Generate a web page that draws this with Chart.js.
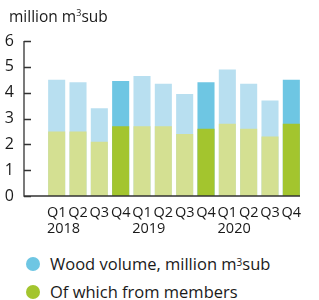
<!DOCTYPE html>
<html>
<head>
<meta charset="utf-8">
<script src="https://cdn.jsdelivr.net/npm/chart.js@4/dist/chart.umd.min.js"></script>
<style>
  body { margin: 0; background: #fff; font-family: "Open Sans", sans-serif; color: #1a1a1a; }
  #wrap { position: relative; width: 319px; height: 300px; }
  #title { position: absolute; left: 9px; top: 5px; font-size: 15.5px; }
  #chart { position: absolute; left: 0; top: 0; }
  .leg { position: absolute; left: 26px; font-size: 16.5px; display: flex; align-items: center; }
  .leg i { display: inline-block; width: 14px; height: 14px; border-radius: 50%; margin-right: 10px; }
</style>
</head>
<body>
<div id="wrap">
  <canvas id="chart" width="319" height="245"></canvas>
  <div id="title">million m<sup style="font-size:9px">3</sup>sub</div>
  <div class="leg" style="top:252px"><i style="background:#6ec6e3"></i>Wood volume, million m<sup style="font-size:10px;position:relative;top:-2px">3</sup>sub</div>
  <div class="leg" style="top:280px"><i style="background:#a3c52e"></i>Of which from members</div>
</div>
<script>
// ── Data ─────────────────────────────────────
const quarters = ['Q1', 'Q2', 'Q3', 'Q4', 'Q1', 'Q2', 'Q3', 'Q4', 'Q1', 'Q2', 'Q3', 'Q4'];
const years    = ['2018', '2019', '2020'];
const totalVol = [4.5, 4.4, 3.4, 4.45, 4.65, 4.35, 3.95, 4.4, 4.9, 4.35, 3.7, 4.5];
const members  = [2.5, 2.5, 2.1, 2.7, 2.7, 2.7, 2.4, 2.6, 2.8, 2.6, 2.3, 2.8];
const yTicks   = [0, 1, 2, 3, 4, 5, 6];

const BLUE_L  = '#b8dff0';
const BLUE_D  = '#6ec6e3';
const GREEN_L = '#d4e092';
const GREEN_D = '#a3c52e';
const INK     = '#1a1a1a';

const pick = (light, dark) => quarters.map(q => q === 'Q4' ? dark : light);

// axis lines + year labels drawn by hand
const axisPlugin = {
  id: 'axisLines',
  afterDraw(chart) {
    const { ctx, chartArea: a, scales: { x, y } } = chart;
    const ax = 24;
    ctx.save();
    ctx.strokeStyle = '#333';
    ctx.lineWidth = 1.3;
    ctx.beginPath();
    ctx.moveTo(ax, a.top);
    ctx.lineTo(ax, a.bottom);
    ctx.lineTo(a.right - 2, a.bottom);
    yTicks.forEach(v => {
      const py = Math.round(y.getPixelForValue(v)) + 0.5;
      ctx.moveTo(ax, py);
      ctx.lineTo(ax + 7, py);
    });
    ctx.stroke();

    ctx.fillStyle = INK;
    ctx.font = '14.5px "Open Sans"';
    ctx.textAlign = 'left';
    ctx.textBaseline = 'alphabetic';
    const qw = ctx.measureText('Q1').width;
    years.forEach((yr, i) => {
      const cx = x.getPixelForValue(i * 4);
      ctx.fillText(yr, cx - qw / 2, 233);
    });
    ctx.restore();
  },
};

new Chart(document.getElementById('chart'), {
  type: 'bar',
  data: {
    labels: quarters,
    datasets: [
      {
        label: 'Of which from members',
        data: members,
        backgroundColor: pick(GREEN_L, GREEN_D),
        order: 0,
      },
      {
        label: 'Wood volume, million m³sub',
        data: totalVol,
        backgroundColor: pick(BLUE_L, BLUE_D),
        order: 1,
      },
    ],
  },
  options: {
    responsive: false,
    animation: false,
    layout: { padding: { top: 41, right: 17, left: 0, bottom: 0 } },
    datasets: { bar: { grouped: false, barPercentage: 0.8, categoryPercentage: 1 } },
    plugins: { legend: { display: false }, tooltip: { enabled: false } },
    scales: {
      x: {
        afterFit: s => { s.height = 49; },
        grid: { display: false },
        border: { display: false },
        ticks: { color: INK, font: { family: 'Open Sans', size: 14.5 }, padding: 0, maxRotation: 0, autoSkip: false },
      },
      y: {
        min: 0,
        max: 6,
        afterFit: s => { s.width = 46; },
        grid: { display: false },
        border: { display: false },
        ticks: { stepSize: 1, color: INK, font: { family: 'Open Sans', size: 16 }, padding: 24 },
      },
    },
  },
  plugins: [axisPlugin],
});
</script>
</body>
</html>
